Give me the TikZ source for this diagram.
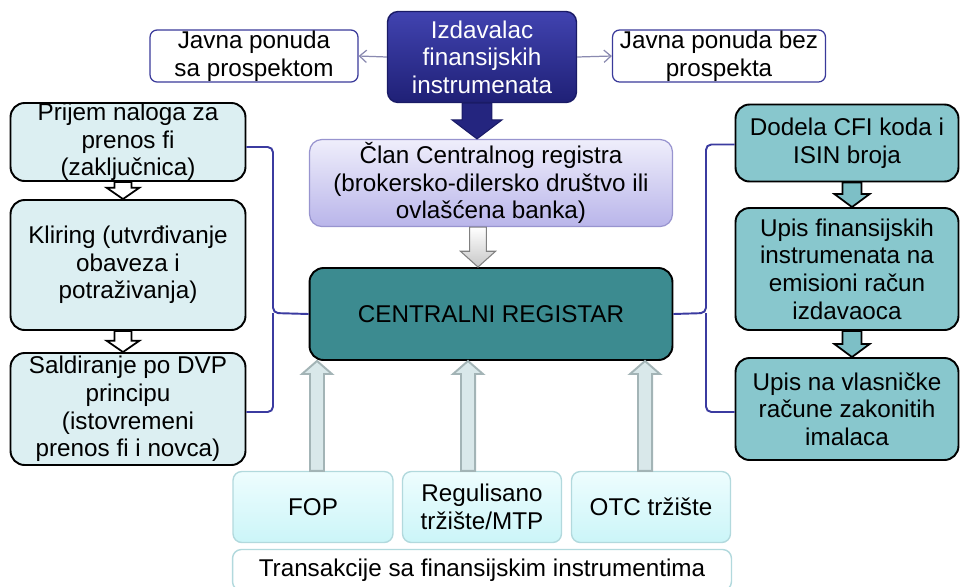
\documentclass[tikz,border=0pt]{standalone}
\usepackage{fontspec}
\setmainfont{Liberation Sans}
\usetikzlibrary{arrows.meta,calc}

\definecolor{izdtop}{HTML}{4143B0}
\definecolor{izdbot}{HTML}{1F2076}
\definecolor{izdline}{HTML}{1A1B66}
\definecolor{javline}{HTML}{3A3A9A}
\definecolor{javarrow}{HTML}{8A8AB0}
\definecolor{clantop}{HTML}{EFEEFB}
\definecolor{clanbot}{HTML}{B9B5EA}
\definecolor{clanline}{HTML}{9894CF}
\definecolor{regfill}{HTML}{3C8B90}
\definecolor{leftfill}{HTML}{DCEFF2}
\definecolor{rightfill}{HTML}{88C7CD}
\definecolor{rightarrow}{HTML}{7DBFC6}
\definecolor{bracecol}{HTML}{3B3BA0}
\definecolor{trgtop}{HTML}{EEFDFE}
\definecolor{trgbot}{HTML}{CBF5F8}
\definecolor{trgline}{HTML}{B2D9DD}
\definecolor{upfill}{HTML}{D9E8EA}
\definecolor{upline}{HTML}{A3B4B6}

% block arrow: style, from, to, shaft half width, head half width, head length
\newcommand{\blockarrow}[6]{%
  \draw[#1] let \p1=(#2), \p2=(#3) in
    (\x1-#4,\y1) -- (\x1-#4,\y2+#6) -- (\x1-#5,\y2+#6) -- (\x1,\y2)
    -- (\x1+#5,\y2+#6) -- (\x1+#4,\y2+#6) -- (\x1+#4,\y1) -- cycle;}

\tikzset{
  txt/.style={align=center, inner sep=0pt, font=\fontsize{13.8}{15.7}\selectfont},
  izdbox/.style={txt, draw=izdline, line width=0.8pt, rounded corners=6pt,
    top color=izdtop, bottom color=izdbot, text=white},
  javbox/.style={txt, draw=javline, line width=0.7pt, rounded corners=4pt, fill=white},
  clanbox/.style={txt, draw=clanline, line width=0.7pt, rounded corners=7pt,
    top color=clantop, bottom color=clanbot},
  regbox/.style={txt, draw=black, line width=1.1pt, rounded corners=8pt, fill=regfill},
  leftbox/.style={txt, draw=black, line width=1.1pt, rounded corners=8pt, fill=leftfill},
  rightbox/.style={txt, draw=black, line width=1.1pt, rounded corners=8pt, fill=rightfill},
  trgbox/.style={txt, draw=trgline, line width=0.8pt, rounded corners=5pt,
    top color=trgtop, bottom color=trgbot},
  transbox/.style={txt, draw=trgline, line width=0.8pt, rounded corners=5pt, fill=white},
  brace/.style={draw=bracecol, line width=1.1pt, rounded corners=3pt},
  javarr/.style={draw=javarrow, line width=0.7pt, -{Straight Barb[length=4pt,width=7pt]}}
}

\begin{document}
\begin{tikzpicture}[x=0.02cm, y=-0.02cm]
  \useasboundingbox (0,0) rectangle (961,586);

  % top row
  \node[izdbox, minimum width=3.78cm, minimum height=1.82cm] (izd) at (482,57)
    {Izdavalac\\finansijskih\\instrumenata};
  \node[javbox, minimum width=4.16cm, minimum height=1.04cm] (jsa) at (254,56)
    {Javna ponuda\\sa prospektom};
  \node[javbox, minimum width=4.26cm, minimum height=1.04cm] (jbez) at (719,56)
    {Javna ponuda bez\\prospekta};
  \draw[javarr] (izd.west) -- (jsa.east);
  \draw[javarr] (izd.east) -- (jbez.west);

  % middle column
  \node[clanbox, minimum width=7.26cm, minimum height=1.74cm] (clan) at (491,183)
    {Član Centralnog registra\\(brokersko-dilersko društvo ili\\ovlašćena banka)};
  \node[regbox, minimum width=7.26cm, minimum height=1.84cm] (cr) at (491,314)
    {CENTRALNI REGISTAR};
  \blockarrow{draw=izdline, line width=0.6pt, fill=izdbot!85!izdtop}{[xshift=-0.1cm]izd.south}{[xshift=-0.1cm]clan.north}{8.5pt}{14.2pt}{10.8pt}
  \blockarrow{draw=gray, line width=0.6pt, top color=white, bottom color=black!22}{[xshift=-0.26cm]clan.south}{[xshift=-0.26cm]cr.north}{4.8pt}{10pt}{9pt}

  % left column
  \node[leftbox, minimum width=4.7cm, minimum height=1.56cm] (prijem) at (128,142)
    {Prijem naloga za\\prenos fi\\(zaključnica)};
  \node[leftbox, minimum width=4.7cm, minimum height=2.6cm] (kliring) at (128,265)
    {Kliring (utvrđivanje\\obaveza i\\potraživanja)};
  \node[leftbox, minimum width=4.7cm, minimum height=2.24cm] (sald) at (128,409)
    {Saldiranje po DVP\\principu\\(istovremeni\\prenos fi i novca)};
  \blockarrow{draw=black, line width=1pt, fill=white}{[xshift=-0.1cm]prijem.south}{[xshift=-0.1cm]kliring.north}{4.8pt}{9.4pt}{6.5pt}
  \blockarrow{draw=black, line width=1pt, fill=white}{[xshift=-0.1cm]kliring.south}{[xshift=-0.1cm]sald.north}{4.8pt}{9.4pt}{6.5pt}

  % right column
  \node[rightbox, minimum width=4.46cm, minimum height=1.54cm] (dodela) at (847,143)
    {Dodela CFI koda i\\ISIN broja};
  \node[rightbox, minimum width=4.46cm, minimum height=2.44cm] (upisfi) at (847,269)
    {Upis finansijskih\\instrumenata na\\emisioni račun\\izdavaoca};
  \node[rightbox, minimum width=4.46cm, minimum height=2.04cm] (upisvl) at (847,409)
    {Upis na vlasničke\\račune zakonitih\\imalaca};
  \blockarrow{draw=black, line width=1pt, fill=rightarrow}{[xshift=0.1cm]dodela.south}{[xshift=0.1cm]upisfi.north}{5.4pt}{10pt}{7.4pt}
  \blockarrow{draw=black, line width=1pt, fill=rightarrow}{[xshift=0.1cm]upisfi.south}{[xshift=0.1cm]upisvl.north}{5.4pt}{10pt}{7.4pt}

  % braces to the register
  \coordinate (lj) at (273,313);
  \coordinate (rj) at (706,313);
  \draw[brace] ([yshift=-0.1cm]prijem.east) -| (lj) -- (cr.west);
  \draw[brace] ([yshift=-0.06cm]sald.east) -| (lj);
  \draw[brace] (cr.east) -- (rj) |- ([yshift=-0.03cm]dodela.west);
  \draw[brace] (rj) |- ([yshift=-0.06cm]upisvl.west);

  % markets
  \node[trgbox, minimum width=3.2cm, minimum height=1.42cm] (fop) at (313,507) {FOP};
  \node[trgbox, minimum width=3.18cm, minimum height=1.42cm] (reg) at (482,507)
    {Regulisano\\tržište/MTP};
  \node[trgbox, minimum width=3.18cm, minimum height=1.42cm] (otc) at (651,507)
    {OTC tržište};
  \node[transbox, minimum width=9.98cm, minimum height=0.82cm] (trans) at (482,570)
    {Transakcije sa finansijskim instrumentima};
  \blockarrow{draw=upline, line width=1.1pt, fill=upfill}{[xshift=0.08cm]fop.north}{[xshift=0.08cm]cr.south}{4pt}{8.5pt}{-7.4pt}
  \blockarrow{draw=upline, line width=1.1pt, fill=upfill}{[xshift=-0.28cm]reg.north}{[xshift=-0.28cm]cr.south}{4pt}{8.5pt}{-7.4pt}
  \blockarrow{draw=upline, line width=1.1pt, fill=upfill}{[xshift=-0.12cm]otc.north}{[xshift=-0.12cm]cr.south}{4pt}{8.5pt}{-7.4pt}
\end{tikzpicture}
\end{document}
